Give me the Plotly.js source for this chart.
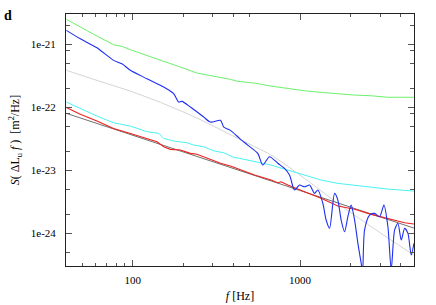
<!DOCTYPE html>
<html>
<head>
<meta charset="utf-8">
<script src="https://cdn.plot.ly/plotly-3.0.1.min.js"></script>
<style>html,body{margin:0;padding:0;background:#fff;}#chart{width:436px;height:305px;}</style>
</head>
<body>
<div id="chart"></div>
<script>
// Frequencies (Hz) and spectral densities (m^2/Hz)
const greenF = [40.2, 48.7, 61.2, 77.0, 86.3, 96.9, 121.8, 153.2, 192.8, 242.3, 305, 383.7, 424.2, 533.8, 671, 844, 1062, 1335, 1680, 2115, 2658, 3344, 4782];
const greenS = [2.47e-21, 1.86e-21, 1.34e-21, 9.75e-22, 9.19e-22, 8.12e-22, 6.62e-22, 5.37e-22, 4.31e-22, 3.47e-22, 3.10e-22, 2.75e-22, 2.56e-22, 2.40e-22, 2.15e-22, 1.95e-22, 1.815e-22, 1.71e-22, 1.61e-22, 1.55e-22, 1.51e-22, 1.43e-22, 1.43e-22];

const blueF = [40.2, 48.7, 61.2, 77.0, 86.3, 96.9, 121.8, 153.2, 175.8, 188.3, 197, 221.3, 265.7, 291.3, 334.4, 349.9, 383.7, 436, 486.6, 558.6, 598.5, 656.5, 735.8, 806.8, 864.3, 926, 991.8, 1062, 1138, 1219, 1276, 1367, 1430, 1499, 1606, 1680, 1758, 1843, 1928, 2017, 2115, 2213, 2316, 2360, 2426, 2599, 2784, 2983, 3165, 3344, 3499, 3667, 3837, 4016, 4207, 4403, 4608, 4782];
const blueS = [1.65e-21, 1.21e-21, 8.73e-22, 5.51e-22, 4.87e-22, 3.83e-22, 2.81e-22, 2.08e-22, 1.63e-22, 1.20e-22, 1.23e-22, 1.0e-22, 6.94e-23, 5.78e-23, 6.15e-23, 4.82e-23, 4.27e-23, 3.16e-23, 2.49e-23, 1.84e-23, 1.20e-23, 1.63e-23, 1.28e-23, 1.06e-23, 8.33e-24, 4.82e-24, 5.78e-24, 5.43e-24, 5.78e-24, 4.27e-24, 4.82e-24, 2.96e-24, 1.61e-24, 1.19e-24, 4.27e-24, 3.34e-24, 1.61e-24, 1.05e-24, 1.82e-24, 2.78e-24, 1.61e-24, 6.87e-25, 3.30e-25, 2.4e-25, 1.12e-24, 1.93e-24, 2.05e-24, 1.82e-24, 2.78e-24, 1.26e-24, 2.6e-25, 1.12e-24, 1.43e-24, 7.74e-25, 1.19e-24, 9.9e-25, 4.48e-25, 6.87e-25];

const lgrayF = [40.2, 61.2, 96.9, 153.2, 242.3, 424.2, 671, 1062, 1680, 2658, 4608, 4782];
const lgrayS = [3.83e-22, 2.65e-22, 1.79e-22, 1.13e-22, 6.69e-23, 3.18e-23, 1.73e-23, 7.38e-24, 2.96e-24, 1.26e-24, 4.76e-25, 4.48e-25];

const dgrayF = [40.2, 4782];
const dgrayS = [7.94e-23, 1.2e-24];

const cyanF = [40.2, 48.7, 61.2, 77.0, 86.3, 96.9, 121.8, 143, 153.2, 175.8, 211.2, 231.6, 265.7, 305, 349.9, 401.6, 436, 533.8, 671, 844, 1062, 1335, 1680, 2115, 2658, 3344, 4782];
const cyanS = [1.20e-22, 9.53e-23, 7.2e-23, 5.63e-23, 5.37e-23, 4.99e-23, 4.06e-23, 3.83e-23, 3.18e-23, 2.89e-23, 2.71e-23, 2.49e-23, 2.34e-23, 2.02e-23, 1.88e-23, 1.59e-23, 1.53e-23, 1.35e-23, 1.20e-23, 1.0e-23, 8.33e-24, 6.93e-24, 6.15e-24, 5.71e-24, 5.31e-24, 4.99e-24, 4.64e-24];

const redF = [40.2, 48.7, 61.2, 77.0, 96.9, 113.7, 139.7, 153.2, 168, 192.8, 221.3, 242.3, 291.3, 334.4, 383.7, 436, 533.8, 671, 735.8, 770, 844, 1062, 1335, 1680, 2115, 2658, 3344, 4207, 4782];
const redS = [9.82e-23, 7.66e-23, 6.0e-23, 4.56e-23, 3.80e-23, 3.30e-23, 2.81e-23, 2.34e-23, 2.13e-23, 2.08e-23, 1.84e-23, 1.78e-23, 1.48e-23, 1.28e-23, 1.16e-23, 1.01e-23, 8.33e-24, 6.93e-24, 6.29e-24, 6.52e-24, 5.78e-24, 4.53e-24, 3.56e-24, 2.68e-24, 2.38e-24, 1.98e-24, 1.71e-24, 1.46e-24, 1.39e-24];

const xTickVals = [100, 1000];
const xTickText = ['100', '1000'];
const xMinor = [50, 60, 70, 80, 90, 200, 300, 400, 500, 2000, 3000, 4000];
const yTickVals = [1e-24, 1e-23, 1e-22, 1e-21];
const yTickText = ['1e-24', '1e-23', '1e-22', '1e-21'];
const yMinor = [5e-25, 2e-24, 5e-24, 2e-23, 5e-23, 8e-23, 2e-22, 5e-22, 8e-22, 2e-21];

function tr(x, y, color, w, shape) {
  return {x: x, y: y, type: 'scatter', mode: 'lines',
          line: {color: color, width: w, shape: shape || 'linear', smoothing: 0.7}, hoverinfo: 'skip'};
}
const data = [
  tr(lgrayF, lgrayS, '#d4d4d4', 1, 'spline'),
  tr(dgrayF, dgrayS, '#707070', 1),
  tr(greenF, greenS, '#6cf06c', 1),
  tr(cyanF, cyanS, '#4cf2f2', 1),
  tr(redF, redS, '#ee2020', 1.1),
  tr(blueF, blueS, '#1f2ef0', 1.1, 'spline')
];
const serif = "'Liberation Serif', 'Times New Roman', Times, serif";
const layout = {
  width: 436, height: 305,
  margin: {l: 66, r: 22, t: 14, b: 39},
  paper_bgcolor: '#fff', plot_bgcolor: '#fff',
  showlegend: false,
  font: {family: serif, size: 11, color: '#000'},
  xaxis: {
    type: 'log', range: [Math.log10(40), 3.68],
    tickmode: 'array', tickvals: xTickVals, ticktext: xTickText,
    ticks: 'inside', ticklen: 6, tickwidth: 1, tickcolor: '#555',
    minor: {tickmode: 'array', tickvals: xMinor, ticks: 'inside', ticklen: 3, tickcolor: '#555', showgrid: false},
    showline: true, linecolor: '#222', linewidth: 1, mirror: 'ticks',
    showgrid: false, zeroline: false,
    tickfont: {family: serif, size: 11, color: '#000'},
    ticklabelstandoff: 4,
    title: {text: '<i>f</i> [Hz]', font: {family: serif, size: 12, color: '#000'}, standoff: 6}
  },
  yaxis: {
    type: 'log', range: [Math.log10(3e-25), Math.log10(3e-21)],
    tickmode: 'array', tickvals: yTickVals, ticktext: yTickText,
    ticks: 'inside', ticklen: 6, tickwidth: 1, tickcolor: '#555',
    minor: {tickmode: 'array', tickvals: yMinor, ticks: 'inside', ticklen: 4, tickcolor: '#555', showgrid: false},
    showline: true, linecolor: '#222', linewidth: 1, mirror: 'ticks',
    showgrid: false, zeroline: false,
    tickfont: {family: serif, size: 11, color: '#000'},
    ticklabelstandoff: 7,
    title: {text: '<i>S</i>( ΔL<sub>u</sub> <i>f</i> )  [m<sup>2</sup>/Hz]', font: {family: serif, size: 12, color: '#000'}, standoff: 8}
  },
  annotations: [{
    text: '<b>d</b>', xref: 'paper', yref: 'paper', x: -0.167, y: 0.996,
    xanchor: 'center', yanchor: 'middle', showarrow: false,
    font: {family: serif, size: 14, color: '#000'}
  }]
};
Plotly.newPlot('chart', data, layout, {displayModeBar: false, staticPlot: true});
</script>
</body>
</html>
